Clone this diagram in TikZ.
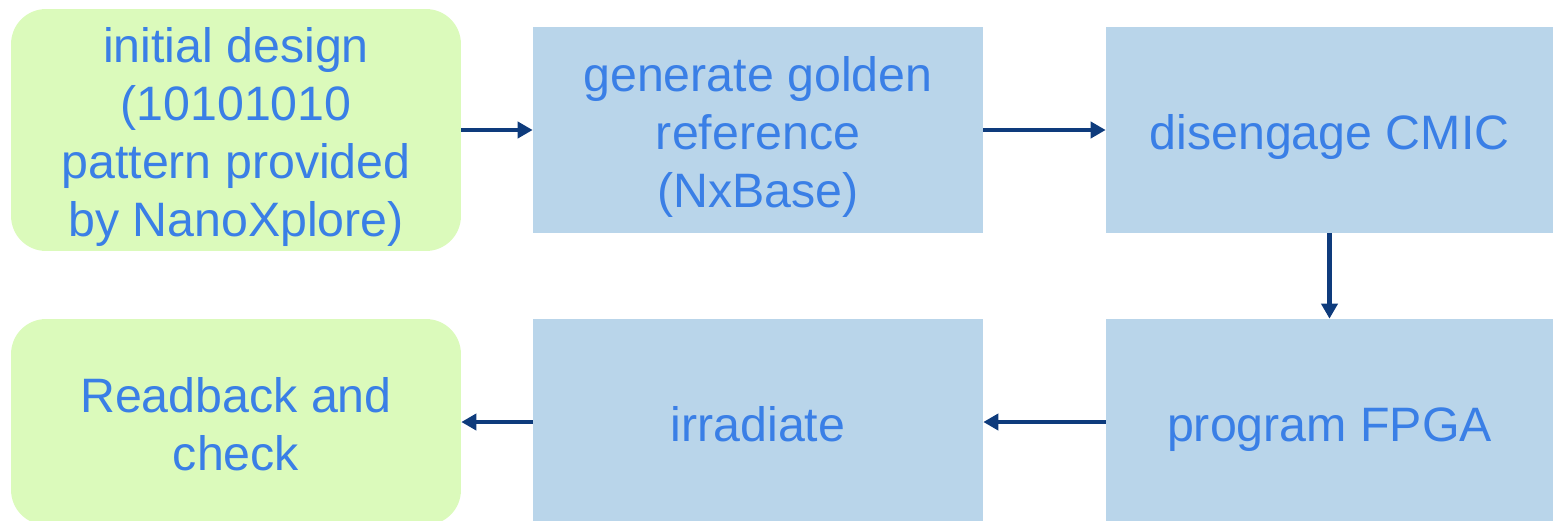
\documentclass[tikz,border=0pt]{standalone}
\usepackage{fontspec}
\setmainfont{Liberation Sans}
\usetikzlibrary{arrows.meta}
\definecolor{stepgreen}{HTML}{DBFABB}
\definecolor{stepblue}{HTML}{B9D5EA}
\definecolor{steptext}{HTML}{3A7FE6}
\definecolor{flowline}{HTML}{0E3B7C}
% text block, pushed a little down inside its box (box size kept)
\newcommand\steptext[1]{\vbox{\kern0.15cm\hbox{\begin{tabular}{@{}c@{}}#1\end{tabular}}\kern-0.15cm}}
\tikzset{every node/.style={inner sep=0pt, text=steptext,
           font=\fontsize{27.5pt}{33pt}\selectfont},
         greenbox/.style={fill=stepgreen, rounded corners=0.7cm, minimum width=9cm},
         bluebox/.style={fill=stepblue, minimum width=9cm, minimum height=4.12cm},
         flow/.style={flowline, line width=2.3pt, -{Triangle[length=0.3cm,width=0.32cm]}}}

\begin{document}
\begin{tikzpicture}[x=0.02cm,y=-0.02cm]
   \useasboundingbox (0,0) rectangle (1553,521);
   \begin{scope}
    \clip (0,0) rectangle (1553,521);
    \node[greenbox, minimum height=4.84cm] (init) at (236,130)
       {\steptext{initial design\\(10101010\\pattern provided\\by NanoXplore)}};
    \node[bluebox] (golden) at (758,130) {\steptext{generate golden\\reference\\(NxBase)}};
    \node[bluebox, minimum width=8.94cm] (cmic) at (1329.5,130) {\steptext{disengage CMIC}};
    \node[bluebox, minimum width=8.94cm] (fpga) at (1329.5,422) {\steptext{program FPGA}};
    \node[bluebox] (irr) at (758,422) {\steptext{irradiate}};
    \node[greenbox, minimum height=4.12cm] (check) at (236,422) {\steptext{Readback and\\check}};
   \end{scope}
   \draw[flow] (init) -- (golden);
   \draw[flow] (golden) -- (cmic);
   \draw[flow] (cmic) -- (fpga);
   \draw[flow] (fpga) -- (irr);
   \draw[flow] (irr) -- (check);
\end{tikzpicture}
\end{document}
